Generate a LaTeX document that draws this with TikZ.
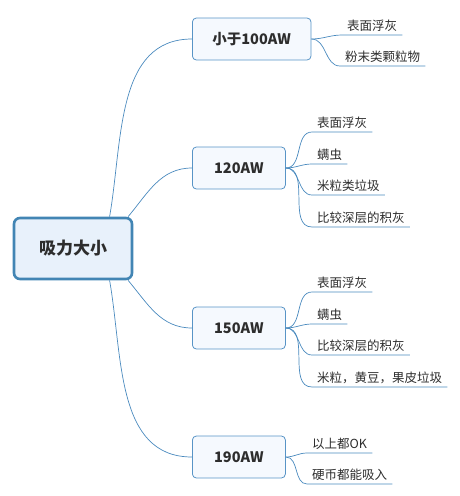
\documentclass[tikz,border=0pt]{standalone}
\usepackage{fontspec}
\setmainfont{Noto Sans CJK SC}
\definecolor{rootblue}{RGB}{66,133,180}
\definecolor{rootfill}{RGB}{232,241,251}
\definecolor{boxblue}{RGB}{88,148,198}
\definecolor{boxfill}{RGB}{245,249,254}
\definecolor{lineblue}{RGB}{74,138,190}
\definecolor{txt}{RGB}{45,45,45}

\begin{document}
\begin{tikzpicture}[x=1pt,y=-1pt,
 root/.style={draw=rootblue,line width=2.6pt,rounded corners=6pt,fill=rootfill,minimum width=118pt,minimum height=61pt,font=\fontsize{17}{20}\selectfont\bfseries,text=txt},
 branch/.style={draw=boxblue,line width=0.8pt,rounded corners=4pt,fill=boxfill,anchor=west,minimum width=93pt,minimum height=42pt,inner xsep=20pt,font=\fontsize{14.5}{17}\selectfont\bfseries,text=txt},
 leaf/.style={anchor=south west,inner xsep=5pt,inner ysep=3pt,font=\fontsize{12.5}{15}\selectfont,text=txt},
 link/.style={draw=lineblue,line width=0.7pt}]
\useasboundingbox (0,0) rectangle (460,496);
\node [root] (r) at (73,248.5) {吸力大小};
\node [branch] (b1) at (192,39) {小于100AW};
\node [branch] (b2) at (192,168) {120AW};
\node [branch] (b3) at (192,328) {150AW};
\node [branch] (b4) at (192,457) {190AW};
\node [leaf] (l11) at (342,35) {表面浮灰};
\node [leaf] (l12) at (340,66) {粉末类颗粒物};
\node [leaf] (l21) at (312,132) {表面浮灰};
\node [leaf] (l22) at (312,164) {螨虫};
\node [leaf] (l23) at (312,195) {米粒类垃圾};
\node [leaf] (l24) at (312,227) {比较深层的积灰};
\node [leaf] (l31) at (312,292) {表面浮灰};
\node [leaf] (l32) at (312,324) {螨虫};
\node [leaf] (l33) at (312,355) {比较深层的积灰};
\node [leaf] (l34) at (312,387) {米粒，黄豆，果皮垃圾};
\node [leaf] (l41) at (307,453) {以上都OK};
\node [leaf] (l42) at (307,484) {硬币都能吸入};
\draw [link] (r.41) to[out=80,in=180] (b1.west);
\draw [link] (r.30) to[out=50,in=180] (b2.west);
\draw [link] (r.-30) to[out=-50,in=180] (b3.west);
\draw [link] (r.-41) to[out=-80,in=180] (b4.west);
\foreach \l in {l11,l12} \draw [link] (b1.east) to[out=0,in=180] (\l.south west) -- (\l.south east);
\foreach \l in {l21,l22,l23,l24} \draw [link] (b2.east) to[out=0,in=180] (\l.south west) -- (\l.south east);
\foreach \l in {l31,l32,l33,l34} \draw [link] (b3.east) to[out=0,in=180] (\l.south west) -- (\l.south east);
\foreach \l in {l41,l42} \draw [link] (b4.east) to[out=0,in=180] (\l.south west) -- (\l.south east);
\end{tikzpicture}
\end{document}
